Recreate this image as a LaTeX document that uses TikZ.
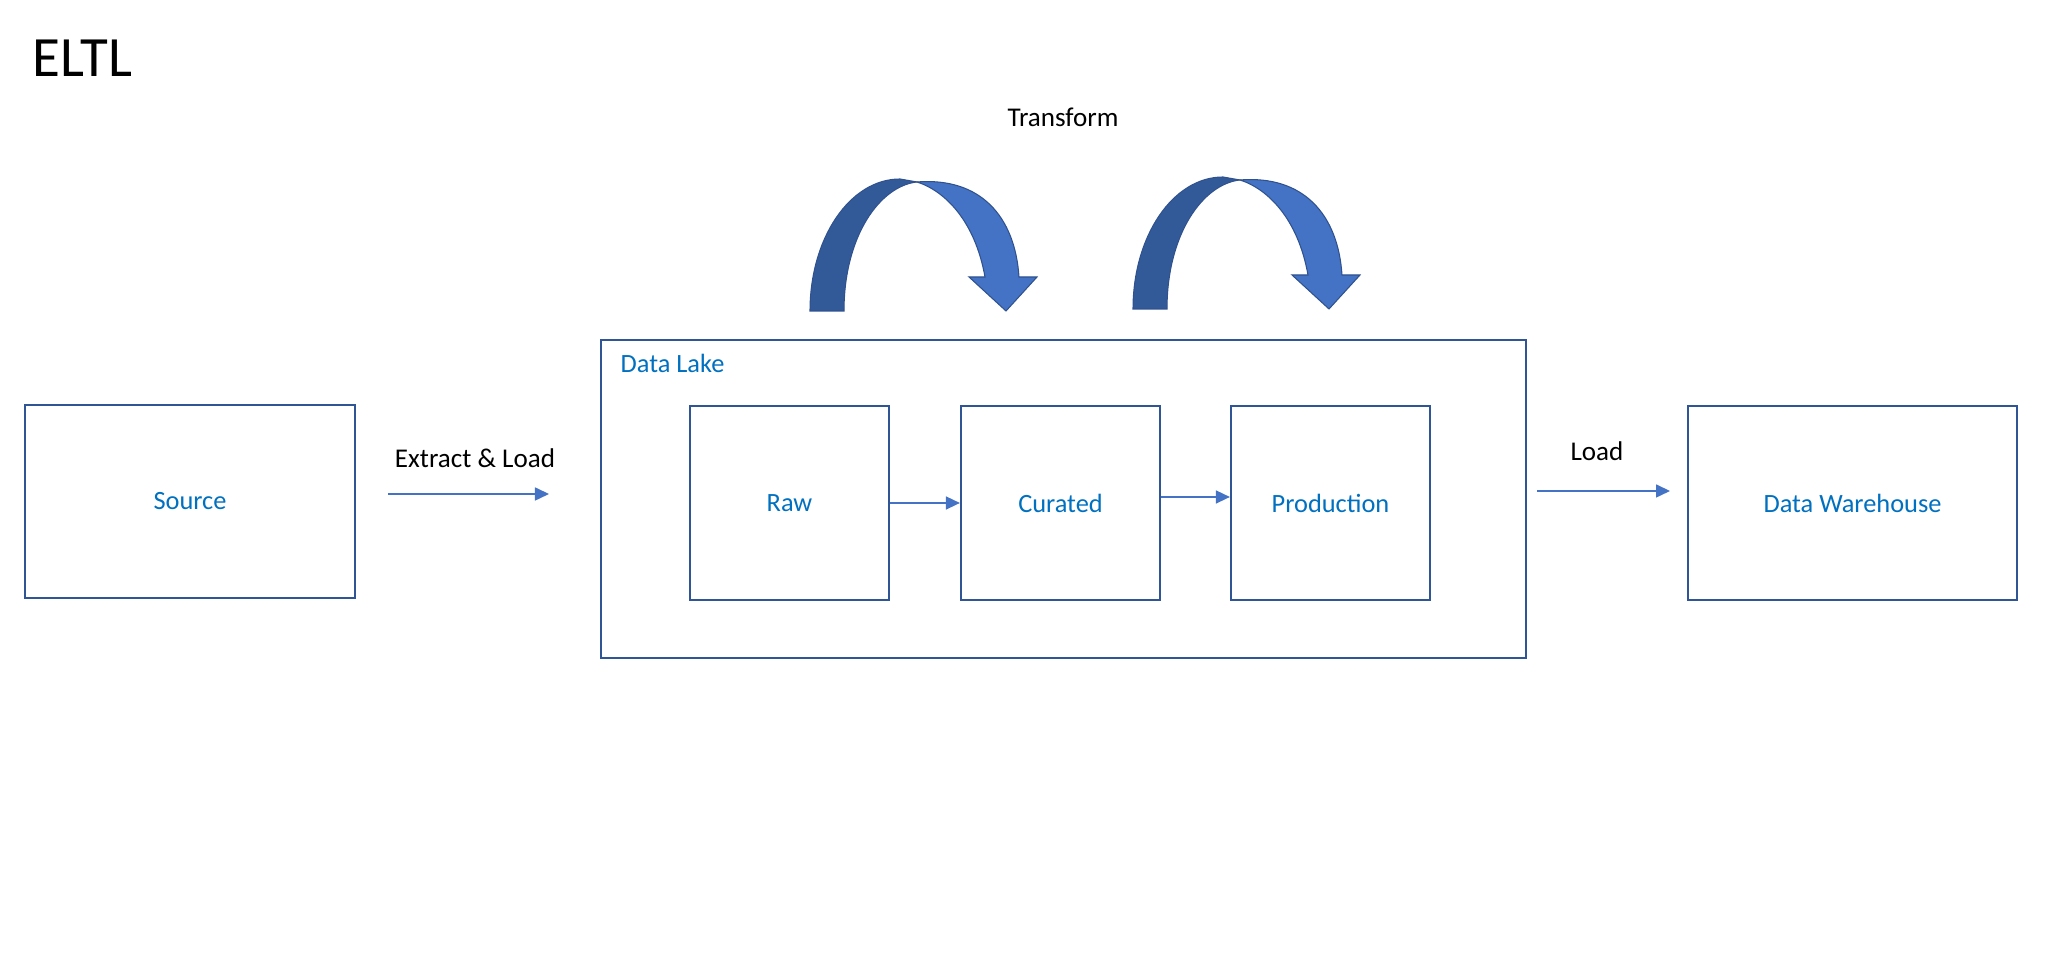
\documentclass[tikz,border=0pt]{standalone}
\usepackage{fontspec}
\setmainfont{Carlito}
\usetikzlibrary{arrows.meta}
\definecolor{boxline}{HTML}{2F5597}
\definecolor{txtblue}{HTML}{0070C0}
\definecolor{arr}{HTML}{4472C4}
\definecolor{darkarr}{HTML}{335A98}
\definecolor{arredge}{HTML}{2F528F}
\begin{document}
\begin{tikzpicture}[x=0.01cm,y=-0.01cm,
  box/.style={draw=boxline, line width=0.6pt, rectangle, inner sep=0pt, text=txtblue, font=\fontsize{7.5}{9}\selectfont},
  flow/.style={draw=arr, line width=0.45pt, -{Triangle[length=0.14cm,width=0.13cm]}},
  lbl/.style={font=\fontsize{7.7}{9}\selectfont, text=black, inner sep=0pt},
  uarrow/.pic={
    \filldraw[fill=darkarr, draw=arredge, line width=0.3pt]
      (0,0) .. controls (0,-73) and (40,-132) .. (90,-132) -- (107,-129)
      .. controls (70,-125) and (34,-75) .. (34,0) -- cycle;
    \filldraw[fill=arr, draw=arredge, line width=0.3pt]
      (107,-129) .. controls (170,-134) and (205,-95) .. (209,-34)
      -- (227,-34) -- (196,0) -- (159,-34) -- (175,-34)
      .. controls (165,-90) and (135,-120) .. (107,-129) -- cycle;
  }]
\useasboundingbox (0,0) rectangle (2048,965);

\node[anchor=base west, inner sep=0pt, font=\fontsize{16.2}{19}\selectfont] (title) at (32,77) {ELTL};

\node[box, minimum width=3.30cm, minimum height=1.93cm] (src) at (190,501.5) {Source};
\node[box, minimum width=9.25cm, minimum height=3.18cm] (lake) at (1063.5,499) {};
\node[anchor=base west, inner sep=0pt, text=txtblue, font=\fontsize{7.5}{9}\selectfont] (lakelbl) at (620,373) {Data Lake};
\node[box, minimum width=1.99cm, minimum height=1.94cm] (raw) at (789.5,503) {Raw};
\node[box, minimum width=1.99cm, minimum height=1.94cm] (cur) at (1060.5,503) {Curated};
\node[box, minimum width=1.99cm, minimum height=1.94cm] (prod) at (1330.5,503) {Production};
\node[box, minimum width=3.29cm, minimum height=1.94cm] (dw) at (1852.5,503) {Data Warehouse};

\coordinate (el1) at (388,494);
\coordinate (el2) at (549,494);
\coordinate (ld1) at (1537,491);
\coordinate (ld2) at (1670,491);
\draw[flow] (el1) -- (el2);
\draw[flow] (ld1) -- (ld2);
\draw[flow] (raw.east) -- (cur.west);
\draw[flow] ([yshift=0.06cm]cur.east) -- ([yshift=0.06cm]prod.west);

\node[lbl] (ellbl) at (475,458) {Extract \& Load};
\node[lbl, anchor=base] (ldlbl) at (1597,461) {Load};
\node[lbl] (tflbl) at (1063,117) {Transform};

\pic at (810,311) {uarrow};
\pic at (1133,309) {uarrow};
\end{tikzpicture}
\end{document}
